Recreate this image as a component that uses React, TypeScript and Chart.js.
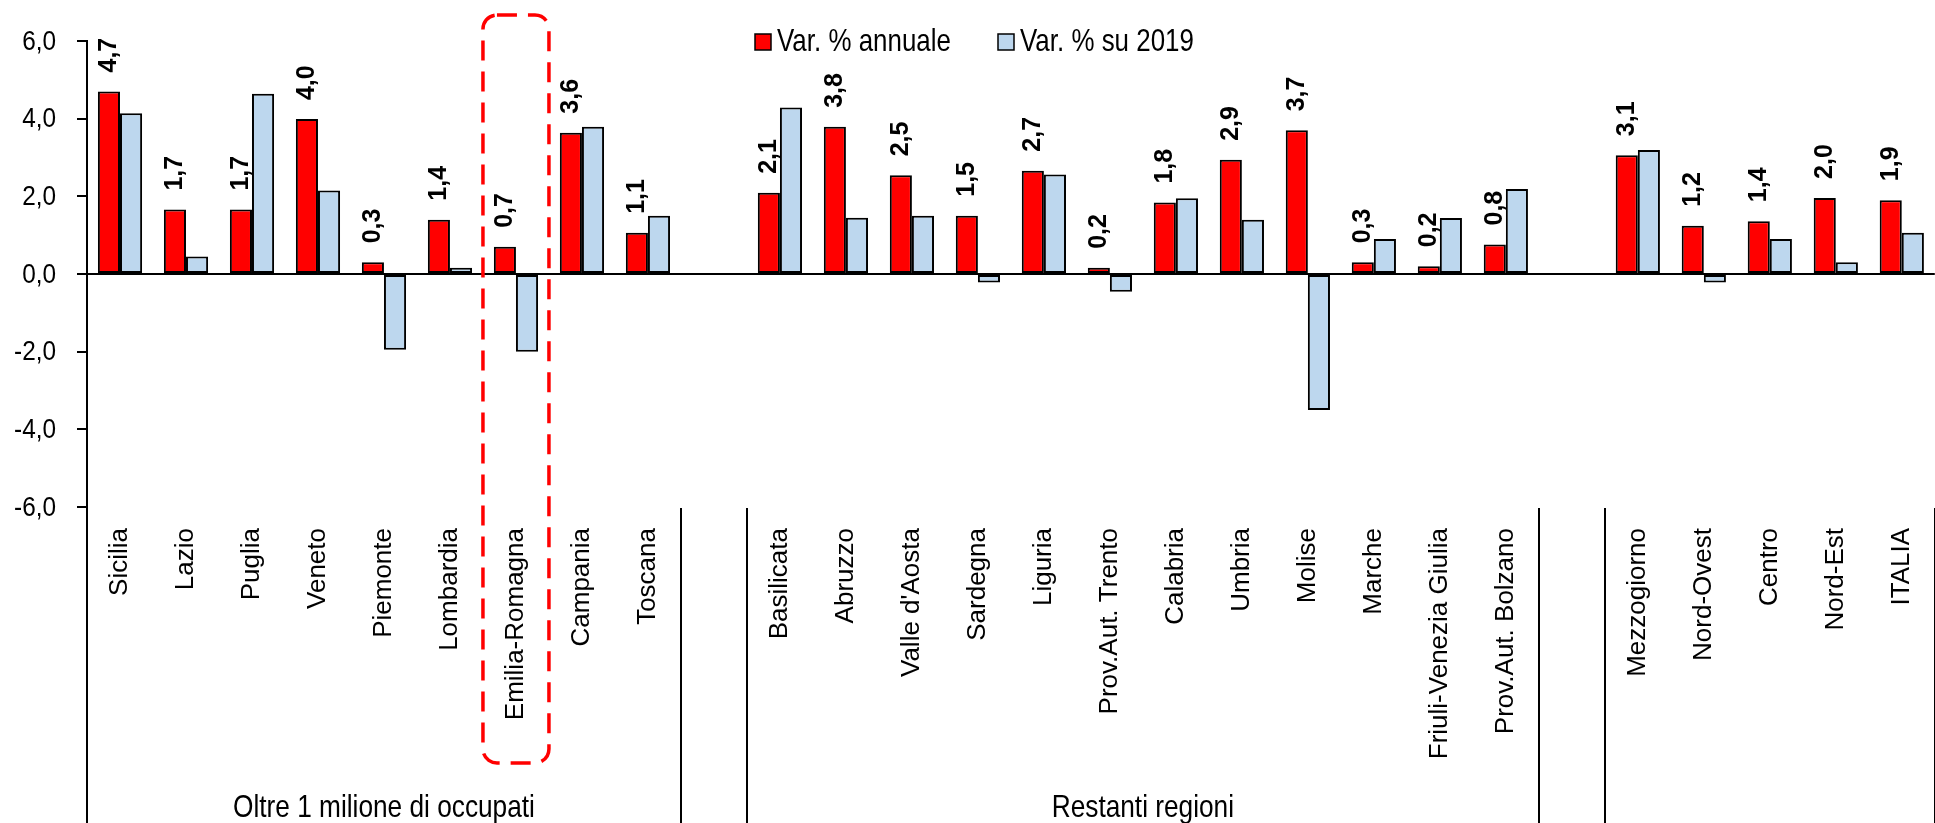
import React, { useEffect, useRef } from "react";
import { Chart, registerables } from "chart.js";

Chart.register(...registerables);

// ---------------- data ----------------
const categories: string[] = [
  "Sicilia", "Lazio", "Puglia", "Veneto", "Piemonte", "Lombardia", "Emilia-Romagna", "Campania", "Toscana",
  "",
  "Basilicata", "Abruzzo", "Valle d'Aosta", "Sardegna", "Liguria", "Prov.Aut. Trento", "Calabria", "Umbria",
  "Molise", "Marche", "Friuli-Venezia Giulia", "Prov.Aut. Bolzano",
  "",
  "Mezzogiorno", "Nord-Ovest", "Centro", "Nord-Est", "ITALIA",
];

const seriesNames: string[] = ["Var. % annuale", "Var. % su 2019"];

const annualValues: (number | null)[] = [
  4.70, 1.66, 1.66, 3.99, 0.30, 1.40, 0.70, 3.64, 1.06,
  null,
  2.09, 3.79, 2.54, 1.50, 2.66, 0.16, 1.84, 2.94, 3.70, 0.30, 0.20, 0.76,
  null,
  3.06, 1.24, 1.36, 1.96, 1.90,
];

const vs2019Values: (number | null)[] = [
  4.14, 0.45, 4.64, 2.15, -1.95, 0.16, -2.00, 3.79, 1.50,
  null,
  4.29, 1.45, 1.50, -0.22, 2.56, -0.46, 1.95, 1.40, -3.50, 0.90, 1.44, 2.19,
  null,
  3.19, -0.22, 0.90, 0.30, 1.06,
];

const groupNames: string[] = ["Oltre 1 milione di occupati", "", "Restanti regioni", "", ""];
const groupStarts: number[] = [0, 9, 10, 22, 23];
const groupEnds: number[] = [9, 10, 22, 23, 28];

const highlightedCategory = "Emilia-Romagna";

const yMin = -6;
const yMax = 6;
const yStep = 2;

// ---------------- styles ----------------
const RED = "#FF0000";
const BLUE = "#BDD7EE";
const SANS = "'Liberation Sans', Arial, sans-serif";

const fmt = (v: number) => v.toFixed(1).replace(".", ",");

function condensedText(ctx: any, text: string, x: number, y: number, align: string, sx: number) {
  ctx.save();
  ctx.translate(x, y);
  ctx.scale(sx, 1);
  ctx.textAlign = align;
  ctx.fillText(text, 0, 0);
  ctx.restore();
}

const overlayPlugin = {
  id: "overlay",
  afterDatasetsDraw(chart: any) {
    const ctx = chart.ctx;
    const meta = chart.getDatasetMeta(0);
    ctx.save();
    ctx.fillStyle = "#000";
    ctx.font = `bold 25px ${SANS}`;
    ctx.textAlign = "left";
    ctx.textBaseline = "middle";
    meta.data.forEach((el: any, i: number) => {
      const v = annualValues[i];
      if (v === null || v === undefined) return;
      ctx.save();
      ctx.translate(el.x, el.y - 19);
      ctx.rotate(-Math.PI / 2);
      ctx.fillText(fmt(v), 0, 0);
      ctx.restore();
    });
    ctx.restore();
  },
  afterDraw(chart: any) {
    const ctx = chart.ctx;
    const xs = chart.scales.x;
    const ys = chart.scales.y;
    const area = chart.chartArea;
    const cw = xs.getPixelForValue(1) - xs.getPixelForValue(0);
    const edge = (i: number) => xs.getPixelForValue(0) + (i - 0.5) * cw;

    ctx.save();
    // y tick labels (narrow face)
    ctx.fillStyle = "#000";
    ctx.font = `28px ${SANS}`;
    ctx.textBaseline = "middle";
    ys.ticks.forEach((t: any) => {
      condensedText(ctx, fmt(t.value), area.left - 31, ys.getPixelForValue(t.value) + 1, "right", 0.87);
    });

    // group separators
    ctx.strokeStyle = "#000";
    ctx.lineWidth = 2;
    const bounds = new Set<number>();
    groupStarts.forEach((s) => bounds.add(s));
    groupEnds.forEach((e) => bounds.add(e));
    bounds.forEach((b) => {
      const px = Math.round(edge(b));
      ctx.beginPath();
      ctx.moveTo(px, area.bottom + 1);
      ctx.lineTo(px, chart.height);
      ctx.stroke();
    });

    // group labels
    ctx.fillStyle = "#000";
    ctx.font = `32px ${SANS}`;
    ctx.textBaseline = "alphabetic";
    groupNames.forEach((name, g) => {
      if (!name) return;
      condensedText(ctx, name, (edge(groupStarts[g]) + edge(groupEnds[g])) / 2, 817, "center", 0.82);
    });

    // legend
    const legendItems = [
      { name: seriesNames[0], color: RED, x: 755 },
      { name: seriesNames[1], color: BLUE, x: 998 },
    ];
    legendItems.forEach((it) => {
      ctx.fillStyle = it.color;
      ctx.fillRect(it.x, 34, 16, 16);
      ctx.strokeStyle = "#000";
      ctx.lineWidth = 1.5;
      ctx.strokeRect(it.x, 34, 16, 16);
      ctx.fillStyle = "#000";
      ctx.font = `32px ${SANS}`;
      ctx.textBaseline = "alphabetic";
      condensedText(ctx, it.name, it.x + 22, 51, "left", 0.81);
    });

    // dashed highlight box
    const hi = categories.indexOf(highlightedCategory);
    if (hi >= 0) {
      const l = edge(hi);
      const r = edge(hi + 1);
      const top = 15;
      const bottom = 763;
      const rad = 14;
      ctx.strokeStyle = RED;
      ctx.lineWidth = 3.5;
      ctx.setLineDash([20, 11]);
      ctx.beginPath();
      ctx.moveTo(l + rad, top);
      ctx.lineTo(r - rad, top);
      ctx.arcTo(r, top, r, top + rad, rad);
      ctx.lineTo(r, bottom - rad);
      ctx.arcTo(r, bottom, r - rad, bottom, rad);
      ctx.lineTo(l + rad, bottom);
      ctx.arcTo(l, bottom, l, bottom - rad, rad);
      ctx.lineTo(l, top + rad);
      ctx.arcTo(l, top, l + rad, top, rad);
      ctx.closePath();
      ctx.stroke();
    }
    ctx.restore();
  },
};

export default function App() {
  const canvasRef = useRef<HTMLCanvasElement | null>(null);

  useEffect(() => {
    if (!canvasRef.current) return;
    const chart = new Chart(canvasRef.current, {
      type: "bar",
      data: {
        labels: categories,
        datasets: [
          {
            label: seriesNames[0],
            data: annualValues,
            backgroundColor: RED,
            borderColor: "#000",
            borderWidth: 2,
            borderSkipped: false,
            categoryPercentage: 0.67,
            barPercentage: 1,
          },
          {
            label: seriesNames[1],
            data: vs2019Values,
            backgroundColor: BLUE,
            borderColor: "#000",
            borderWidth: 2,
            borderSkipped: false,
            categoryPercentage: 0.67,
            barPercentage: 1,
          },
        ],
      },
      options: {
        responsive: false,
        animation: false,
        events: [],
        layout: { padding: { top: 41, left: 0, right: 0, bottom: 0 } },
        plugins: {
          legend: { display: false },
          tooltip: { enabled: false },
        },
        scales: {
          x: {
            grid: { display: false, drawTicks: false },
            border: { display: false },
            ticks: {
              autoSkip: false,
              maxRotation: 90,
              minRotation: 90,
              padding: 21,
              color: "#000",
              font: { family: SANS, size: 26 },
            },
            afterFit: (s: any) => {
              s.height = 316;
            },
          },
          y: {
            min: yMin,
            max: yMax,
            ticks: {
              stepSize: yStep,
              padding: 21,
              color: "rgba(0,0,0,0)",
              font: { family: SANS, size: 28 },
              callback: (v: any) => fmt(Number(v)),
            },
            grid: {
              drawTicks: true,
              tickLength: 10,
              tickColor: "#000",
              tickWidth: 2,
              lineWidth: 2,
              color: (c: any) => (c.tick && c.tick.value === 0 ? "#000" : "rgba(0,0,0,0)"),
            },
            border: { display: true, color: "#000", width: 2 },
            afterFit: (s: any) => {
              s.width = 87;
            },
          },
        },
      },
      plugins: [overlayPlugin],
    });
    return () => chart.destroy();
  }, []);

  return (
    <div
      style={{
        position: "fixed",
        left: 0,
        top: 0,
        width: 1935,
        height: 823,
        overflow: "hidden",
        background: "#fff",
      }}
    >
      <canvas ref={canvasRef} width={1954} height={823} style={{ display: "block" }} />
    </div>
  );
}
